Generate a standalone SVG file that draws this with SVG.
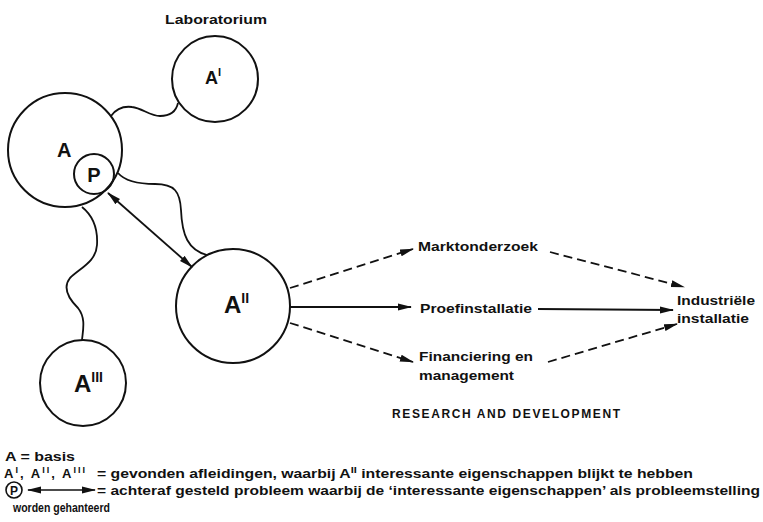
<svg xmlns="http://www.w3.org/2000/svg" width="763" height="522" viewBox="0 0 763 522">
<style>
.c{fill:none;stroke:#111;stroke-width:2}
.w{fill:none;stroke:#111;stroke-width:1.8}
.l{fill:none;stroke:#111;stroke-width:1.8}
.d{fill:none;stroke:#111;stroke-width:1.8;stroke-dasharray:9 5}
.t{font-family:"Liberation Sans",Arial,sans-serif;font-weight:bold;fill:#111}
.n{font-family:"Liberation Sans",Arial,sans-serif;font-weight:bold;fill:#111}
</style>
<defs>
<marker id="ah" viewBox="0 0 14 8" refX="13" refY="4" markerWidth="14" markerHeight="8" markerUnits="userSpaceOnUse" orient="auto-start-reverse">
<path d="M0,0.5 L14,4 L0,7.5 Z" fill="#111"/>
</marker>
</defs>
<rect width="763" height="522" fill="#fff"/>

<g id="connectors">
<path class="w" d="M111,116 C116,109 124,106 132,107 C142,108 150,116 160,116 C170,116 176,112 178,103"/>
<path class="w" d="M118,173 C124,180 135,184 155,184 C175,184 180,192 181,210 C182,235 188,250 207,255"/>
<path class="w" d="M82,207 C92,215 98,228 97,245 C96,262 80,268 70,278 C62,288 70,300 78,308 C86,318 83,330 82,340"/>
<line class="l" x1="108" y1="193" x2="192" y2="267" marker-start="url(#ah)" marker-end="url(#ah)"/>
<line class="d" x1="290" y1="288" x2="413" y2="249" marker-end="url(#ah)"/>
<line class="l" x1="290" y1="307" x2="411" y2="307" marker-end="url(#ah)"/>
<line class="d" x1="290" y1="323" x2="413" y2="362" marker-end="url(#ah)"/>
<line class="d" x1="550" y1="252" x2="684" y2="287" marker-end="url(#ah)"/>
<line class="l" x1="538" y1="309" x2="673" y2="310" marker-end="url(#ah)"/>
<line class="d" x1="548" y1="362" x2="677" y2="324" marker-end="url(#ah)"/>
</g>

<g id="node-laboratorium">
<text class="t" x="165" y="24" font-size="13" textLength="102" lengthAdjust="spacingAndGlyphs">Laboratorium</text>
</g>
<g id="node-A1">
<circle class="c" cx="215" cy="79" r="43"/>
<text class="n" x="205" y="84" font-size="18">A<tspan font-size="11" dy="-8">I</tspan></text>
</g>
<g id="node-A">
<circle class="c" cx="65" cy="150" r="57"/>
<text class="n" x="57" y="157" font-size="20">A</text>
</g>
<g id="node-P">
<circle class="c" cx="94" cy="174" r="20"/>
<text class="n" x="94" y="182" font-size="20" text-anchor="middle">P</text>
</g>
<g id="node-A2">
<circle class="c" cx="233" cy="306" r="57"/>
<text class="n" x="224" y="313" font-size="24">A<tspan font-size="14" dy="-10">II</tspan></text>
</g>
<g id="node-A3">
<circle class="c" cx="83" cy="383" r="43"/>
<text class="n" x="74" y="392" font-size="24">A<tspan font-size="14" dy="-10">III</tspan></text>
</g>
<g id="node-markt">
<text class="t" x="418" y="251" font-size="13" textLength="120" lengthAdjust="spacingAndGlyphs">Marktonderzoek</text>
</g>
<g id="node-proef">
<text class="t" x="420" y="313" font-size="13" textLength="112" lengthAdjust="spacingAndGlyphs">Proefinstallatie</text>
</g>
<g id="node-fin">
<text class="t" x="419" y="361" font-size="13" textLength="114" lengthAdjust="spacingAndGlyphs">Financiering en</text>
<text class="t" x="419" y="380" font-size="13" textLength="95" lengthAdjust="spacingAndGlyphs">management</text>
</g>
<g id="node-industrie">
<text class="t" x="677" y="305" font-size="13" textLength="78" lengthAdjust="spacingAndGlyphs">Industriële</text>
<text class="t" x="677" y="323" font-size="13" textLength="72" lengthAdjust="spacingAndGlyphs">installatie</text>
</g>
<g id="title">
<text class="t" x="392" y="418" font-size="12" textLength="228" lengthAdjust="spacing">RESEARCH AND DEVELOPMENT</text>
</g>
<g id="legend">
<text class="t" x="5" y="461" font-size="13" textLength="70" lengthAdjust="spacingAndGlyphs">A = basis</text>
<text class="t" x="4" y="478" font-size="13" textLength="81" lengthAdjust="spacing">A<tspan font-size="9" dy="-5">I</tspan><tspan dy="5">, A</tspan><tspan font-size="9" dy="-5">II</tspan><tspan dy="5">, A</tspan><tspan font-size="9" dy="-5">III</tspan></text>
<text class="t" x="97" y="478" font-size="13" textLength="596" lengthAdjust="spacingAndGlyphs">= gevonden afleidingen, waarbij A<tspan font-size="9" dy="-5">II</tspan><tspan dy="5"> interessante eigenschappen blijkt te hebben</tspan></text>
<circle cx="14" cy="490" r="8" fill="none" stroke="#111" stroke-width="1.6"/>
<text class="t" x="14" y="494.5" font-size="12" text-anchor="middle">P</text>
<line x1="28" y1="490" x2="95" y2="490" stroke="#111" stroke-width="1.5" marker-start="url(#ah)" marker-end="url(#ah)"/>
<text class="t" x="97" y="495" font-size="13" textLength="663" lengthAdjust="spacingAndGlyphs">= achteraf gesteld probleem waarbij de ‘interessante eigenschappen’ als probleemstelling</text>
<text class="t" x="13" y="512" font-size="13" textLength="97" lengthAdjust="spacingAndGlyphs">worden gehanteerd</text>
</g>
</svg>
